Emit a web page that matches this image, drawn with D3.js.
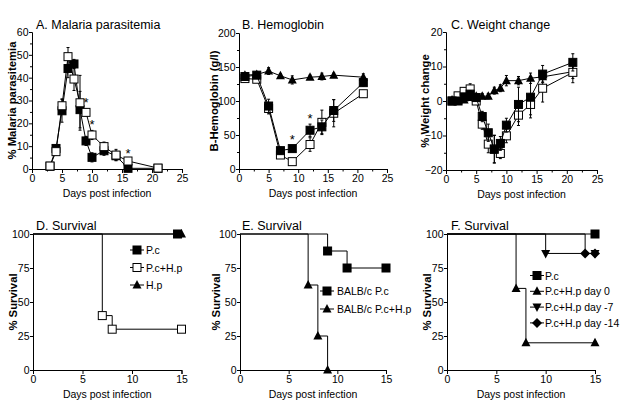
<!DOCTYPE html>
<html><head><meta charset="utf-8">
<script src="https://cdn.jsdelivr.net/npm/d3@7"></script>
<style>
body{margin:0;background:#fff;}
svg{font-family:"Liberation Sans",Arial,Helvetica,sans-serif;}
</style></head>
<body><svg id="c" width="625" height="408"></svg>
<script>
// ---------- Panel A: Malaria parasitemia ----------
const paraDays = [3,4,5,6,7,8,9,10,12,14,16,21];
const paraPc   = [1.2,9,25.5,44,46,26,12.3,5.1,8,5.8,0.3,0.3];
const paraPcErr= [0.5,1.5,5,4,2,8,2,2,2,2,0.5,0.3];
const paraPcHp = [1.3,7.6,27.7,49.2,39.4,29,24.8,14.9,9.8,6.1,3.5,0.4];
const paraPcHpErr=[0.5,1.5,3,4,5,12,1.5,2,2,2.5,1,0.3];
const paraStarDays=[9,10,16];
const paraStarVals=[30,20,7.5];

// ---------- Panel B: Hemoglobin ----------
const hbDays = [1,3,5,7,9,12,14,16,21];
const hbHp   = [138,139,144,137,131,135,136,138,135];
const hbHpErr= [4,4,5,3,6,3,5,3,5];
const hbPc   = [136,138,92.6,27,30,57,62,86,127];
const hbPcErr= [5,4,10,5,4,9,10,16,5];
const hbPcHp = [133,132,89,20.6,10.8,36,68.6,82,110.7];
const hbPcHpErr=[5,4,8,5,3,10,18,20,5];
const hbStarDays=[9,12];
const hbStarVals=[45,77];

// ---------- Panel C: Weight change ----------
const wtDays = [1,2,3,4,5,6,7,8,9,10,12,14,16,21];
const wtHp   = [0.3,0.3,0.3,1,1.4,1.4,1.4,3,3.7,5.9,5.9,6.6,7,8.5];
const wtHpErr= [0.5,0.5,0.5,0.8,0.8,0.8,0.8,1,1,1.5,1.2,1.5,1.5,2];
const wtPc   = [0,0,1.2,2,1,-4.5,-9.2,-14,-12.3,-7,-1,1.1,7.8,11.2];
const wtPcErr= [0.5,0.5,0.8,1,1,1.5,2.5,4,2,2,5,6,2.5,2.5];
const wtPcHp = [0,1.5,2.8,3.5,0,-6.7,-12.5,-13.9,-15.2,-10.1,-4.1,-1,3.7,8.3];
const wtPcHpErr=[0.5,0.8,1,1.5,1,1.5,2.5,4,1.5,2,3,3,4,3];

// ---------- Panel D: Survival ----------
const dPcDays=[0,14.6], dPcSurv=[100,100];
const dPcHpDays=[0,7,8,15], dPcHpSurv=[100,40,30,30];
const dHpDays=[0,15], dHpSurv=[100,100];

// ---------- Panel E: Survival ----------
const ePcDays=[0,9,11,15], ePcSurv=[100,87.5,75,75];
const ePcHpDays=[0,7,8,9], ePcHpSurv=[100,62.5,25,0];

// ---------- Panel F: Survival ----------
const fPcDays=[0,15], fPcSurv=[100,100];
const fD0Days=[0,7,8,15], fD0Surv=[100,60,20,20];
const fD7Days=[0,10,15], fD7Surv=[100,85.7,85.7];
const fD14Days=[0,14,15], fD14Surv=[100,85.7,85.7];

const svg = d3.select("#c");
const TICK_FS = 10.5, LAB_FS = 10.5, TITLE_FS = 12.5, YT_FS = 11.3, LEG_FS = 10.5;

function marker(g, type, x, y){
  const s = 8;
  if(type==="sqF"||type==="sqO"){
    g.append("rect").attr("x",x-s/2).attr("y",y-s/2).attr("width",s).attr("height",s)
     .attr("fill",type==="sqF"?"#000":"#fff").attr("stroke","#000").attr("stroke-width",1);
  } else if(type==="triUp"){
    g.append("path").attr("d",`M${x},${y-5}L${x+4.5},${y+3.5}L${x-4.5},${y+3.5}Z`).attr("fill","#000");
  } else if(type==="triDn"){
    g.append("path").attr("d",`M${x},${y+5}L${x+4.5},${y-3.5}L${x-4.5},${y-3.5}Z`).attr("fill","#000");
  } else if(type==="dia"){
    g.append("path").attr("d",`M${x},${y-5}L${x+5},${y}L${x},${y+5}L${x-5},${y}Z`).attr("fill","#000");
  }
}

function axes(g, x, y, xt, yt, xMinor, yMinor, yTitle, yTitleX){
  const xa = d3.axisBottom(x).tickValues(xt).tickSize(4).tickPadding(2).tickFormat(d3.format("d"));
  const ya = d3.axisLeft(y).tickValues(yt).tickSize(3).tickPadding(0.5).tickFormat(d3.format("d"));
  g.append("g").attr("transform",`translate(0,${y.range()[0]})`).call(xa);
  g.append("g").attr("transform",`translate(${x.range()[0]},0)`).call(ya);
  if(xMinor) g.append("g").attr("transform",`translate(0,${y.range()[0]})`)
      .call(d3.axisBottom(x).tickValues(xMinor).tickSize(2.5).tickFormat("")).select(".domain").remove();
  if(yMinor) g.append("g").attr("transform",`translate(${x.range()[0]},0)`)
      .call(d3.axisLeft(y).tickValues(yMinor).tickSize(2).tickFormat("")).select(".domain").remove();
  g.selectAll(".tick text").attr("font-size",TICK_FS).attr("fill","#000").attr("font-family","Liberation Sans, Arial, sans-serif");
  g.selectAll(".domain").attr("stroke","#000");
  g.selectAll(".tick line").attr("stroke","#000");
  const cx = (x.range()[0]+x.range()[1])/2;
  g.append("text").attr("x",cx).attr("y",y.range()[0]+28).attr("text-anchor","middle")
    .attr("font-size",LAB_FS).text("Days post infection");
  const cy = (y.range()[0]+y.range()[1])/2;
  g.append("text").attr("transform",`translate(${yTitleX},${cy}) rotate(-90)`).attr("text-anchor","middle")
    .attr("font-size",YT_FS).attr("font-weight","bold").text(yTitle);
}

function title(g, x, y, t){
  g.append("text").attr("x",x).attr("y",y).attr("font-size",TITLE_FS).text(t);
}

function errSeries(g, x, y, days, vals, errs, type){
  const line = d3.line().x((d,i)=>x(days[i])).y(d=>y(d));
  days.forEach((d,i)=>{
    const x0=x(d), y1=y(vals[i]+errs[i]), y2=y(vals[i]-errs[i]);
    g.append("line").attr("x1",x0).attr("x2",x0).attr("y1",y1).attr("y2",y2).attr("stroke","#000").attr("stroke-width",1);
    [y1,y2].forEach(yy=>g.append("line").attr("x1",x0-1.5).attr("x2",x0+1.5).attr("y1",yy).attr("y2",yy).attr("stroke","#000"));
  });
  g.append("path").attr("d",line(vals)).attr("fill","none").attr("stroke","#000").attr("stroke-width",1);
  days.forEach((d,i)=>marker(g,type,x(d),y(vals[i])));
}

function stars(g,x,y,days,vals){
  days.forEach((d,i)=>g.append("text").attr("x",x(d)).attr("y",y(vals[i])+6).attr("text-anchor","middle")
     .attr("font-size",13).text("*"));
}

function survSeries(g, x, y, days, surv, type){
  const line = d3.line().curve(d3.curveStepAfter).x((d,i)=>x(days[i])).y(d=>y(d));
  g.append("path").attr("d",line(surv)).attr("fill","none").attr("stroke","#000").attr("stroke-width",1);
  days.forEach((d,i)=>{ if(i>0) marker(g,type,x(d),y(surv[i])); });
}

function legend(g, items, mx, tx, y0, dy){
  items.forEach((it,i)=>{
    const yy=y0+i*dy;
    g.append("line").attr("x1",mx-7).attr("x2",mx+7).attr("y1",yy).attr("y2",yy).attr("stroke","#000");
    marker(g,it.type,mx,yy);
    g.append("text").attr("x",tx).attr("y",yy+4).attr("font-size",LEG_FS).text(it.label);
  });
}

// ---- A
{
  const g=svg.append("g");
  const x=d3.scaleLinear().domain([0,25]).range([32,182]);
  const y=d3.scaleLinear().domain([0,60]).range([169,32]);
  axes(g,x,y,[0,5,10,15,20,25],[0,10,20,30,40,50,60],[2.5,7.5,12.5,17.5,22.5],[5,15,25,35,45,55],"% Malaria parasitemia",16);
  title(g,36,29,"A. Malaria parasitemia");
  errSeries(g,x,y,paraDays,paraPc,paraPcErr,"sqF");
  errSeries(g,x,y,paraDays,paraPcHp,paraPcHpErr,"sqO");
  stars(g,x,y,paraStarDays,paraStarVals);
}
// ---- B
{
  const g=svg.append("g");
  const x=d3.scaleLinear().domain([0,25]).range([239,387]);
  const y=d3.scaleLinear().domain([0,200]).range([169,33]);
  axes(g,x,y,[0,5,10,15,20,25],[0,50,100,150,200],[2.5,7.5,12.5,17.5,22.5],[25,75,125,175],"B-Hemoglobin (g/l)",218);
  title(g,242,29,"B. Hemoglobin");
  errSeries(g,x,y,hbDays,hbPcHp,hbPcHpErr,"sqO");
  errSeries(g,x,y,hbDays,hbPc,hbPcErr,"sqF");
  errSeries(g,x,y,hbDays,hbHp,hbHpErr,"triUp");
  stars(g,x,y,hbStarDays,hbStarVals);
}
// ---- C
{
  const g=svg.append("g");
  const x=d3.scaleLinear().domain([0,25]).range([446,597]);
  const y=d3.scaleLinear().domain([-20,20]).range([170,32]);
  axes(g,x,y,[0,5,10,15,20,25],[-20,-10,0,10,20],[2.5,7.5,12.5,17.5,22.5],[-15,-5,5,15],"% Weight change",429);
  title(g,451,29,"C. Weight change");
  errSeries(g,x,y,wtDays,wtHp,wtHpErr,"triUp");
  errSeries(g,x,y,wtDays,wtPcHp,wtPcHpErr,"sqO");
  errSeries(g,x,y,wtDays,wtPc,wtPcErr,"sqF");
}
// ---- D
{
  const g=svg.append("g");
  const x=d3.scaleLinear().domain([0,15]).range([33,181.5]);
  const y=d3.scaleLinear().domain([0,100]).range([370,234]);
  axes(g,x,y,[0,5,10,15],[0,25,50,75,100],null,null,"% Survival",16.5);
  title(g,36,230,"D. Survival");
  survSeries(g,x,y,dPcHpDays,dPcHpSurv,"sqO");
  survSeries(g,x,y,dHpDays,dHpSurv,"triUp");
  survSeries(g,x,y,dPcDays,dPcSurv,"sqF");
  legend(g,[{type:"sqF",label:"P.c"},{type:"sqO",label:"P.c+H.p"},{type:"triUp",label:"H.p"}],137,146,250,17.5);
}
// ---- E
{
  const g=svg.append("g");
  const x=d3.scaleLinear().domain([0,15]).range([240,386]);
  const y=d3.scaleLinear().domain([0,100]).range([370,234]);
  axes(g,x,y,[0,5,10,15],[0,25,50,75,100],null,null,"% Survival",220);
  title(g,242,230,"E. Survival");
  survSeries(g,x,y,ePcDays,ePcSurv,"sqF");
  survSeries(g,x,y,ePcHpDays,ePcHpSurv,"triUp");
  legend(g,[{type:"sqF",label:"BALB/c P.c"},{type:"triUp",label:"BALB/c P.c+H.p"}],327,337,291,18);
}
// ---- F
{
  const g=svg.append("g");
  const x=d3.scaleLinear().domain([0,15]).range([447,595]);
  const y=d3.scaleLinear().domain([0,100]).range([370,234]);
  axes(g,x,y,[0,5,10,15],[0,25,50,75,100],null,null,"% Survival",431);
  title(g,451,230,"F. Survival");
  survSeries(g,x,y,fD0Days,fD0Surv,"triUp");
  survSeries(g,x,y,fD7Days,fD7Surv,"triDn");
  survSeries(g,x,y,fD14Days,fD14Surv,"dia");
  survSeries(g,x,y,fPcDays,fPcSurv,"sqF");
  legend(g,[{type:"sqF",label:"P.c"},{type:"triUp",label:"P.c+H.p day 0"},{type:"triDn",label:"P.c+H.p day -7"},{type:"dia",label:"P.c+H.p day -14"}],537,545,275.5,15.8);
}
</script></body></html>
